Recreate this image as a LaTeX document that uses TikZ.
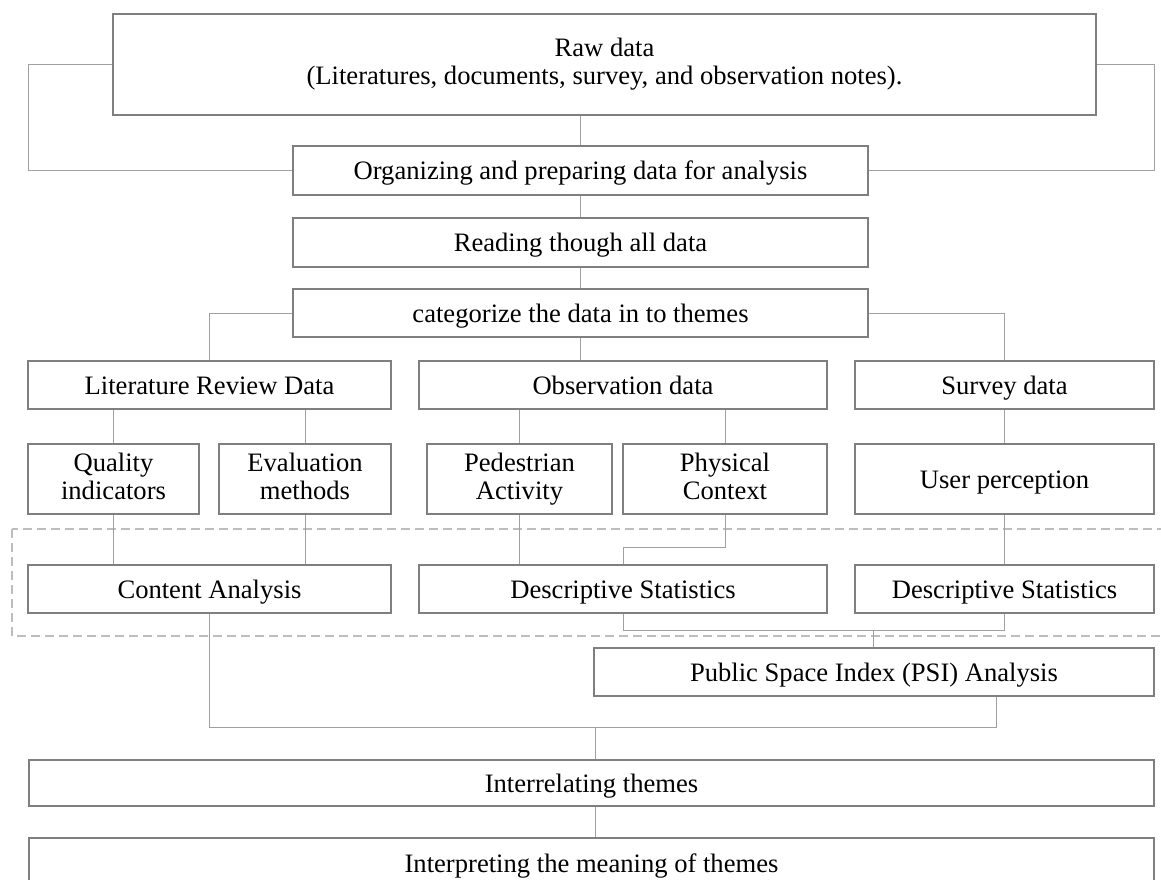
\documentclass[tikz,border=0pt]{standalone}
\usepackage{fontspec}
\setmainfont{Liberation Serif}
\newcommand{\topstrut}{\rule[-6pt]{0pt}{30pt}}
\begin{document}
\begin{tikzpicture}[x=1pt, y=-1pt,
  box/.style={draw=boxgray, line width=1.6pt, fill=white, inner sep=0pt,
    align=center, text=black, font=\fontsize{26.6}{28}\selectfont,
    execute at begin node=\topstrut, execute at end node=\topstrut},
  link/.style={draw=linkgray, line width=1pt},
  group/.style={draw=dashgray, line width=1.3pt, dash pattern=on 9pt off 5pt}]
\definecolor{boxgray}{HTML}{7F7F7F}
\definecolor{linkgray}{HTML}{A0A0A0}
\definecolor{dashgray}{HTML}{BDBDBD}
\useasboundingbox (0,0) rectangle (1161,879);

% dashed frame around the analysis stage
\draw[group] (12,529) rectangle (1175,636);

% boxes
\node[box, minimum width=983, minimum height=101] (raw) at (604.5,64.5)
  {Raw data\\(Literatures, documents, survey, and observation notes).};
\node[box, minimum width=575, minimum height=49] (org) at (580.5,170.5)
  {Organizing and preparing data for analysis};
\node[box, minimum width=575, minimum height=49] (read) at (580.5,242.5)
  {Reading though all data};
\node[box, minimum width=575, minimum height=48] (cat) at (580.5,313)
  {categorize the data in to themes};

\node[box, minimum width=363, minimum height=48] (lit) at (209.5,385) {Literature Review Data};
\node[box, minimum width=408, minimum height=48] (obs) at (623,385) {Observation data};
\node[box, minimum width=299, minimum height=48] (sur) at (1004.5,385) {Survey data};

\node[box, minimum width=171, minimum height=70] (qual) at (113.5,479) {Quality\\indicators};
\node[box, minimum width=172, minimum height=70] (eval) at (305,479) {Evaluation\\methods};
\node[box, minimum width=185, minimum height=70] (ped) at (519.5,479) {Pedestrian\\Activity};
\node[box, minimum width=204, minimum height=70] (phys) at (725,479) {Physical\\Context};
\node[box, minimum width=299, minimum height=70] (user) at (1004.5,479) {User perception};

\node[box, minimum width=363, minimum height=48] (ca) at (209.5,589) {Content Analysis};
\node[box, minimum width=408, minimum height=48] (ds1) at (623,589) {Descriptive Statistics};
\node[box, minimum width=299, minimum height=48] (ds2) at (1004.5,589) {Descriptive Statistics};

\node[box, minimum width=560, minimum height=48] (psi) at (874,672) {Public Space Index (PSI) Analysis};
\node[box, minimum width=1125, minimum height=46] (inter) at (591.5,783) {Interrelating themes};
\node[box, minimum width=1125, minimum height=50] (interp) at (591.5,863) {Interpreting the meaning of themes};

% junction points
\coordinate (lloop) at (28,0);
\coordinate (rloop) at (1154,0);
\coordinate (dsj) at (873,630);
\coordinate (psiout) at (996,0);
\coordinate (mj) at (595,727);

% connectors
\draw[link] (org.north) -- (org.north |- raw.south);
\draw[link] (raw.west) -- (raw.west -| lloop) |- (org.west);
\draw[link] (raw.east) -- (raw.east -| rloop) |- (org.east);
\draw[link] (org.south) -- (read.north);
\draw[link] (read.south) -- (cat.north);
\draw[link] (cat.west) -| (lit.north);
\draw[link] (cat.east) -| (sur.north);
\draw[link] (cat.south) -- (cat.south |- obs.north);

\draw[link] (qual.north) -- (qual.north |- lit.south);
\draw[link] (eval.north) -- (eval.north |- lit.south);
\draw[link] (ped.north) -- (ped.north |- obs.south);
\draw[link] (phys.north) -- (phys.north |- obs.south);
\draw[link] (user.north) -- (sur.south);

\draw[link] (qual.south) -- (qual.south |- ca.north);
\draw[link] (eval.south) -- (eval.south |- ca.north);
\draw[link] (ped.south) -- (ped.south |- ds1.north);
\draw[link] (phys.south) -- ++(0,33) -| (ds1.north);
\draw[link] (user.south) -- (ds2.north);

\draw[link] (ds1.south) |- (dsj) -| (ds2.south);
\draw[link] (dsj) -- (dsj |- psi.north);

\draw[link] (ca.south) |- (mj) -| (psi.south -| psiout);
\draw[link] (mj) -- (mj |- inter.north);
\draw[link] (mj |- inter.south) -- (mj |- interp.north);
\end{tikzpicture}
\end{document}
